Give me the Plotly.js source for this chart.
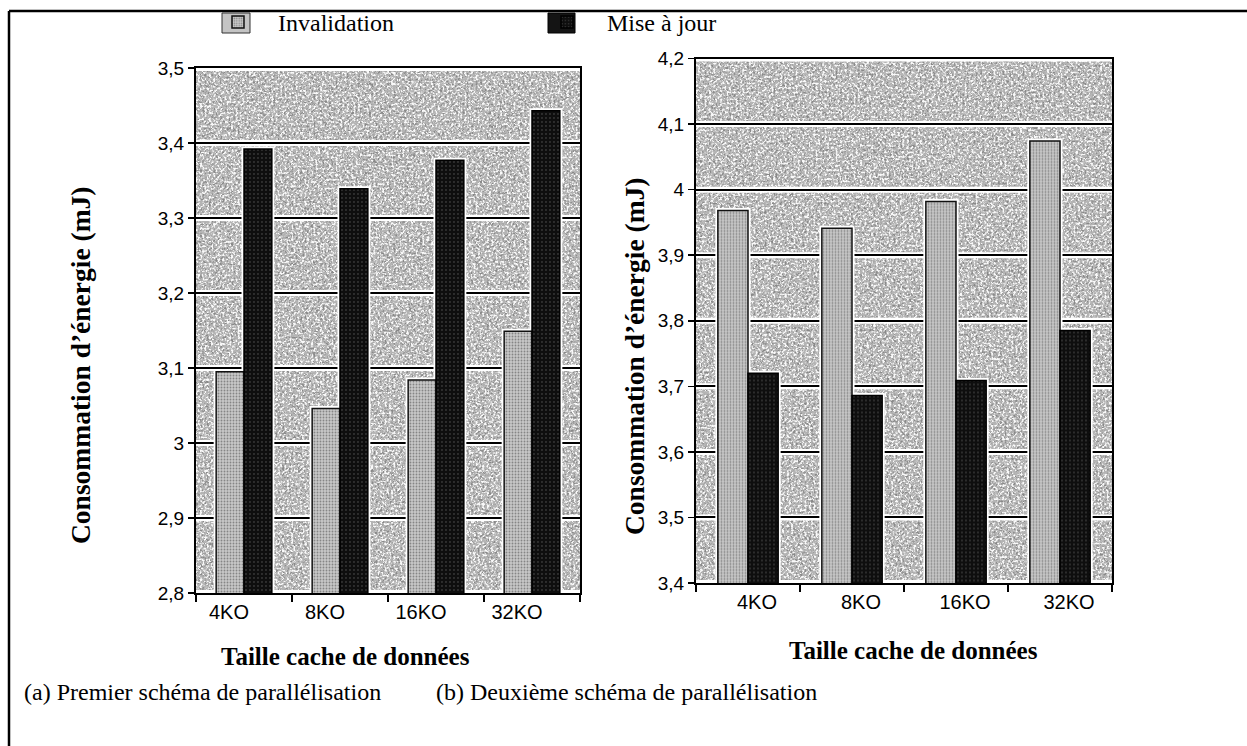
<!DOCTYPE html>
<html>
<head>
<meta charset="utf-8">
<script src="https://cdn.plot.ly/plotly-3.0.1.min.js"></script>
<style>html,body{margin:0;padding:0;background:#fff;}#chart{width:1247px;height:746px;}</style>
</head>
<body>
<div id="chart"></div>
<script>
// ---- data ----
const categories = ['4KO', '8KO', '16KO', '32KO'];
const invalidationA = [3.095, 3.046, 3.084, 3.149];
const miseAJourA = [3.392, 3.339, 3.377, 3.443];
const invalidationB = [3.968, 3.941, 3.982, 4.074];
const miseAJourB = [3.720, 3.686, 3.709, 3.785];
const yTickValsA = [2.8, 2.9, 3.0, 3.1, 3.2, 3.3, 3.4, 3.5];
const yTickTextA = ['2,8', '2,9', '3', '3,1', '3,2', '3,3', '3,4', '3,5'];
const yTickValsB = [3.4, 3.5, 3.6, 3.7, 3.8, 3.9, 4.0, 4.1, 4.2];
const yTickTextB = ['3,4', '3,5', '3,6', '3,7', '3,8', '3,9', '4', '4,1', '4,2'];
const seriesNames = ['Invalidation', 'Mise à jour'];
const xTitle = 'Taille cache de données';
const yTitle = 'Consommation d’énergie (mJ)';
const captionA = '(a) Premier schéma de parallélisation';
const captionB = '(b) Deuxième schéma de parallélisation';

// ---- layout helpers ----
const W = 1247, H = 746;
const px = x => x / W;
const py = y => 1 - y / H;

const serif = 'Liberation Serif, Times New Roman, serif';
const sans = 'Liberation Sans, Arial, sans-serif';

const invStyle = {
  color: '#c6c6c6',
  line: {color: '#111', width: 1.5},
  pattern: {shape: '.', fgcolor: '#858585', bgcolor: '#c8c8c8', size: 3, solidity: 0.3, fillmode: 'replace'}
};
const majStyle = {
  color: '#111',
  line: {color: '#000', width: 1.5},
  pattern: {shape: '.', fgcolor: '#5a5a5a', bgcolor: '#0e0e0e', size: 4, solidity: 0.1, fillmode: 'replace'}
};
const haloStyle = {color: '#ffffff', line: {color: '#ffffff', width: 5}};

function barsFor(xa, ya, inv, maj, legend) {
  return [
    {type: 'bar', x: categories, y: inv, xaxis: xa, yaxis: ya, offsetgroup: 'inv', marker: haloStyle, showlegend: false, hoverinfo: 'skip'},
    {type: 'bar', x: categories, y: maj, xaxis: xa, yaxis: ya, offsetgroup: 'maj', marker: haloStyle, showlegend: false, hoverinfo: 'skip'},
    {type: 'bar', name: seriesNames[0], x: categories, y: inv, xaxis: xa, yaxis: ya, offsetgroup: 'inv', marker: invStyle, showlegend: legend, legendgroup: 'inv'},
    {type: 'bar', name: seriesNames[1], x: categories, y: maj, xaxis: xa, yaxis: ya, offsetgroup: 'maj', marker: majStyle, showlegend: legend, legendgroup: 'maj'}
  ];
}

const traces = [].concat(
  barsFor('x', 'y', invalidationA, miseAJourA, true),
  barsFor('x2', 'y2', invalidationB, miseAJourB, false)
);

// plot areas (pixels)
const A = {l: 196, r: 580, t: 68, b: 593};
const B = {l: 696, r: 1112, t: 58.5, b: 583};

function noise(w, h) {
  const svg = `<svg xmlns='http://www.w3.org/2000/svg' width='${w}' height='${h}' viewBox='0 0 ${w} ${h}'>` +
    `<filter id='k' x='0' y='0' width='100%' height='100%'><feTurbulence type='fractalNoise' baseFrequency='0.45' numOctaves='3' seed='4'/>` +
    `<feColorMatrix type='matrix' values='0 0 0 0 0.25  0 0 0 0 0.25  0 0 0 0 0.25  5 0 0 0 -2.5'/></filter>` +
    `<filter id='w' x='0' y='0' width='100%' height='100%'><feTurbulence type='fractalNoise' baseFrequency='0.45' numOctaves='3' seed='11'/>` +
    `<feColorMatrix type='matrix' values='0 0 0 0 0.95  0 0 0 0 0.95  0 0 0 0 0.95  0 5 0 0 -2.4'/></filter>` +
    `<rect width='100%' height='100%' fill='#b4b4b4'/><rect width='100%' height='100%' filter='url(#k)'/><rect width='100%' height='100%' filter='url(#w)'/></svg>`;
  return 'data:image/svg+xml;charset=utf-8,' + encodeURIComponent(svg);
}

function gridHalos(xref, yref, vals) {
  return vals.map(v => ({type: 'line', xref: xref + ' domain', yref: yref, x0: 0, x1: 1, y0: v, y1: v,
    line: {color: '#ffffff', width: 6}, layer: 'below'}));
}

const yAxisCommon = {
  showgrid: true, gridcolor: '#000', gridwidth: 2,
  showline: true, linecolor: '#000', linewidth: 2, mirror: true,
  ticks: 'outside', ticklen: 6, tickwidth: 1.5, tickcolor: '#000',
  tickfont: {family: sans, size: 19, color: '#000'},
  zeroline: false, fixedrange: true
};
const xAxisCommon = {
  type: 'category', tickson: 'boundaries', ticks: 'outside', ticklen: 7, tickwidth: 2, tickcolor: '#000',
  showline: true, linecolor: '#000', linewidth: 2, mirror: true, showgrid: false,
  tickfont: {family: sans, size: 20, color: '#000'}, fixedrange: true
};

const yTitleFont = {family: serif, size: 27.5, color: '#000', weight: 'bold'};
const xTitleFont = {family: serif, size: 25, color: '#000', weight: 'bold'};

const layout = {
  width: W, height: H,
  margin: {l: 0, r: 0, t: 0, b: 0},
  paper_bgcolor: '#ffffff', plot_bgcolor: '#b4b4b4',
  barmode: 'group', bargap: 0.42, bargroupgap: 0,
  showlegend: true,
  legend: {
    orientation: 'h', x: px(198), y: py(0), xanchor: 'left', yanchor: 'top',
    font: {family: serif, size: 24, color: '#000'},
    entrywidth: 244, entrywidthmode: 'pixels', itemwidth: 70,
    bgcolor: 'rgba(0,0,0,0)', traceorder: 'normal'
  },
  xaxis: Object.assign({}, xAxisCommon, {domain: [px(A.l), px(A.r)], anchor: 'y', ticklabelshift: -15}),
  yaxis: Object.assign({}, yAxisCommon, {domain: [py(A.b), py(A.t)], anchor: 'x', range: [2.8, 3.5],
    tickmode: 'array', tickvals: yTickValsA, ticktext: yTickTextA}),
  xaxis2: Object.assign({}, xAxisCommon, {domain: [px(B.l), px(B.r)], anchor: 'y2', ticklabelshift: 9}),
  yaxis2: Object.assign({}, yAxisCommon, {domain: [py(B.b), py(B.t)], anchor: 'x2', range: [3.4, 4.2],
    tickmode: 'array', tickvals: yTickValsB, ticktext: yTickTextB}),
  images: [
    {source: noise(A.r - A.l, A.b - A.t), xref: 'paper', yref: 'paper', x: px(A.l), y: py(A.t),
      sizex: px(A.r) - px(A.l), sizey: py(A.t) - py(A.b), sizing: 'stretch', layer: 'below', xanchor: 'left', yanchor: 'top'},
    {source: noise(B.r - B.l, B.b - B.t), xref: 'paper', yref: 'paper', x: px(B.l), y: py(B.t),
      sizex: px(B.r) - px(B.l), sizey: py(B.t) - py(B.b), sizing: 'stretch', layer: 'below', xanchor: 'left', yanchor: 'top'}
  ],
  shapes: [].concat(
    gridHalos('x', 'y', yTickValsA),
    gridHalos('x2', 'y2', yTickValsB),
    [
      // enlarged legend swatch backgrounds
      {type: 'rect', xref: 'paper', yref: 'paper', x0: px(222), x1: px(250), y0: py(33), y1: py(13),
        fillcolor: '#c4c4c4', line: {color: '#333', width: 1}, layer: 'above'},
      {type: 'rect', xref: 'paper', yref: 'paper', x0: px(548), x1: px(575), y0: py(33), y1: py(13),
        fillcolor: '#141414', line: {color: '#000', width: 1}, layer: 'above'},
      {type: 'line', xref: 'paper', yref: 'paper', x0: px(9), x1: 1, y0: py(11), y1: py(11), line: {color: '#000', width: 2.5}},
      {type: 'line', xref: 'paper', yref: 'paper', x0: px(9), x1: px(9), y0: py(11), y1: 0, line: {color: '#000', width: 2.5}}
    ]
  ),
  annotations: [
    {text: yTitle, textangle: -90, xref: 'paper', yref: 'paper', x: px(80), y: py(366), xanchor: 'center', yanchor: 'middle',
      showarrow: false, font: yTitleFont},
    {text: yTitle, textangle: -90, xref: 'paper', yref: 'paper', x: px(634), y: py(357), xanchor: 'center', yanchor: 'middle',
      showarrow: false, font: yTitleFont},
    {text: xTitle, xref: 'paper', yref: 'paper', x: px(345), y: py(656), xanchor: 'center', yanchor: 'middle',
      showarrow: false, font: xTitleFont},
    {text: xTitle, xref: 'paper', yref: 'paper', x: px(913), y: py(650), xanchor: 'center', yanchor: 'middle',
      showarrow: false, font: xTitleFont},
    {text: captionA, xref: 'paper', yref: 'paper', x: px(22), y: py(692), xanchor: 'left', yanchor: 'middle', showarrow: false,
      font: {family: serif, size: 24, color: '#000'}},
    {text: captionB, xref: 'paper', yref: 'paper', x: px(434), y: py(692), xanchor: 'left', yanchor: 'middle', showarrow: false,
      font: {family: serif, size: 24, color: '#000'}}
  ]
};

Plotly.newPlot('chart', traces, layout, {displayModeBar: false, staticPlot: true});
</script>
</body>
</html>
